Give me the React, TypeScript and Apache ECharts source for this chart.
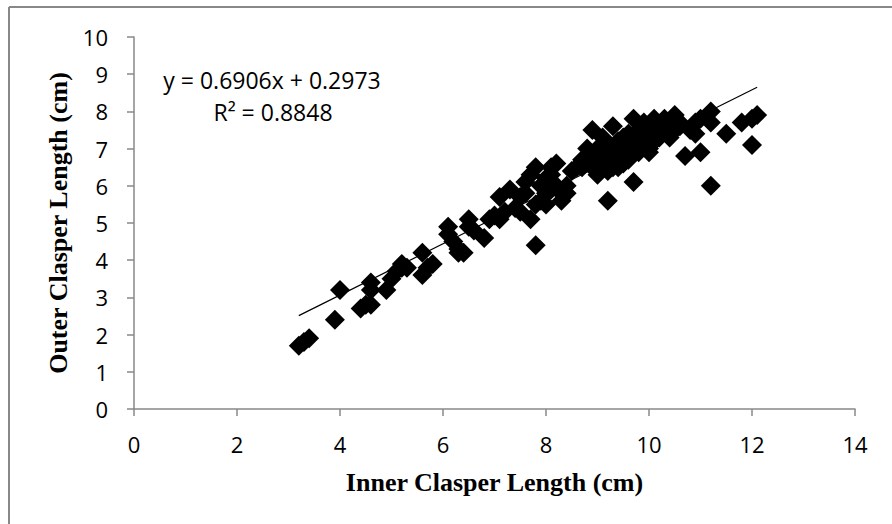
import React, { useEffect, useRef } from "react";
import * as echarts from "echarts";

const innerLength: number[] = [
  3.2, 3.3, 3.4, 3.9, 4.0, 4.4, 4.5, 4.6, 4.6, 4.6, 4.9, 5.0, 5.1, 5.2, 5.2, 5.3, 5.6, 5.6, 5.8, 5.7,
  6.1, 6.1, 6.2, 6.3, 6.4, 6.3, 6.5, 6.5, 6.6, 6.8, 6.9, 7.0, 7.1, 7.1, 7.2, 7.3, 7.4, 7.5, 7.5, 7.6,
  7.7, 7.7, 7.8, 7.8, 7.8, 7.9, 7.9, 8.0, 8.0, 8.0, 8.1, 8.1, 8.2, 8.2, 8.3, 8.3, 8.4, 8.4, 8.5, 8.6,
  8.7, 8.8, 8.8, 8.9, 8.9, 9.0, 9.0, 9.1, 9.1, 9.2, 9.2, 9.2, 9.3, 9.3, 9.4, 9.4, 9.5, 9.5, 9.6, 9.6,
  9.7, 9.7, 9.7, 9.8, 9.8, 9.9, 9.9, 10.0, 10.0, 10.0, 10.1, 10.1, 10.2, 10.3, 10.3, 10.4, 10.4, 10.5, 10.5, 10.6,
  10.7, 10.9, 10.9, 11.0, 11.0, 11.2, 11.2, 11.2, 11.5, 11.8, 12.0, 12.0, 12.1,
  8.9, 9.0, 9.1, 9.3, 9.5, 9.8, 10.2, 10.6, 10.8, 8.7, 9.4, 9.6, 10.1, 7.6, 8.1,
];
const outerLength: number[] = [
  1.7, 1.8, 1.9, 2.4, 3.2, 2.7, 2.8, 2.8, 3.4, 3.2, 3.2, 3.5, 3.7, 3.9, 3.8, 3.8, 4.2, 3.6, 3.9, 3.8,
  4.9, 4.7, 4.5, 4.2, 4.2, 4.3, 5.1, 4.9, 4.8, 4.6, 5.1, 5.2, 5.7, 5.1, 5.3, 5.9, 5.4, 5.3, 5.7, 5.8,
  5.1, 6.3, 6.5, 4.4, 5.5, 5.6, 6.0, 5.8, 6.2, 5.5, 6.5, 6.3, 6.6, 6.0, 5.6, 5.8, 6.0, 5.8, 6.4, 6.5,
  6.5, 6.8, 7.0, 7.5, 6.5, 6.3, 7.0, 6.8, 7.3, 5.6, 6.4, 6.6, 7.6, 7.0, 6.7, 7.2, 6.9, 6.6, 7.0, 6.7,
  7.8, 6.1, 7.2, 7.5, 6.9, 7.7, 7.1, 7.0, 7.4, 6.9, 7.2, 7.6, 7.3, 7.8, 7.5, 7.3, 7.7, 7.9, 7.5, 7.6,
  6.8, 7.7, 7.4, 6.9, 7.8, 8.0, 6.0, 7.7, 7.4, 7.7, 7.1, 7.8, 7.9,
  6.8, 6.6, 7.1, 6.5, 7.3, 7.2, 7.6, 7.7, 7.5, 6.7, 6.5, 7.4, 7.8, 6.1, 5.9,
];

const trendX: number[] = [3.2, 12.1];
const trendY: number[] = [2.51, 8.65];

const xTicks: number[] = [0, 2, 4, 6, 8, 10, 12, 14];
const yTicks: number[] = [0, 1, 2, 3, 4, 5, 6, 7, 8, 9, 10];

const equationText = "y = 0.6906x + 0.2973";
const r2Text = "R² = 0.8848";

export default function App() {
  const ref = useRef<HTMLDivElement>(null);
  useEffect(() => {
    if (!ref.current) return;
    const chart = echarts.init(ref.current, undefined, { renderer: "svg" });
    const points = innerLength.map((x, i) => [x, outerLength[i]]);
    const trend = trendX.map((x, i) => [x, trendY[i]]);
    const axisGray = "#888888";
    const tickFont = "'Open Sans', 'Noto Sans', sans-serif";
    const serif = "'Liberation Serif', 'DejaVu Serif', serif";
    chart.setOption({
      animation: false,
      backgroundColor: "#ffffff",
      grid: { left: 134, right: 37, top: 37, bottom: 115, containLabel: false },
      xAxis: {
        type: "value",
        min: xTicks[0],
        max: xTicks[xTicks.length - 1],
        interval: 2,
        splitLine: { show: false },
        axisLine: { show: true, onZero: false, lineStyle: { color: axisGray, width: 1.5 } },
        axisTick: { show: true, inside: false, length: 7, lineStyle: { color: axisGray, width: 1.5 } },
        axisLabel: { color: "#000", fontSize: 22, fontFamily: tickFont, margin: 24 },
        name: "Inner Clasper Length (cm)",
        nameLocation: "middle",
        nameGap: 60,
        nameTextStyle: { color: "#000", fontSize: 26, fontWeight: "bold", fontFamily: serif },
      },
      yAxis: {
        type: "value",
        min: yTicks[0],
        max: yTicks[yTicks.length - 1],
        interval: 1,
        splitLine: { show: false },
        axisLine: { show: true, onZero: false, lineStyle: { color: axisGray, width: 1.5 } },
        axisTick: { show: true, inside: false, length: 7, lineStyle: { color: axisGray, width: 1.5 } },
        axisLabel: { color: "#000", fontSize: 22, fontFamily: tickFont, margin: 26 },
        name: "Outer Clasper Length (cm)",
        nameLocation: "middle",
        nameGap: 63,
        nameRotate: 90,
        nameTextStyle: { color: "#000", fontSize: 26, fontWeight: "bold", fontFamily: serif },
      },
      series: [
        {
          type: "scatter",
          data: points,
          symbol: "diamond",
          symbolSize: 20,
          itemStyle: { color: "#000000", opacity: 1 },
          z: 2,
        },
        {
          type: "line",
          data: trend,
          symbol: "none",
          lineStyle: { color: "#000000", width: 1.2 },
          z: 3,
        },
      ],
      graphic: [
        {
          type: "line",
          shape: { x1: 9, y1: 7, x2: 892, y2: 7 },
          style: { stroke: "#888888", lineWidth: 2 },
        },
        {
          type: "line",
          shape: { x1: 9, y1: 7, x2: 9, y2: 524 },
          style: { stroke: "#888888", lineWidth: 2 },
        },
        {
          type: "text",
          x: 272,
          y: 80,
          style: {
            text: equationText,
            fill: "#000",
            fontSize: 23,
            fontFamily: tickFont,
            align: "center",
            verticalAlign: "middle",
          },
        },
        {
          type: "text",
          x: 273,
          y: 112,
          style: {
            text: r2Text,
            fill: "#000",
            fontSize: 23,
            fontFamily: tickFont,
            align: "center",
            verticalAlign: "middle",
          },
        },
      ],
    });
    return () => chart.dispose();
  }, []);
  return (
    <div
      ref={ref}
      style={{ position: "fixed", left: 0, top: 0, width: 892, height: 524, background: "#fff" }}
    />
  );
}
